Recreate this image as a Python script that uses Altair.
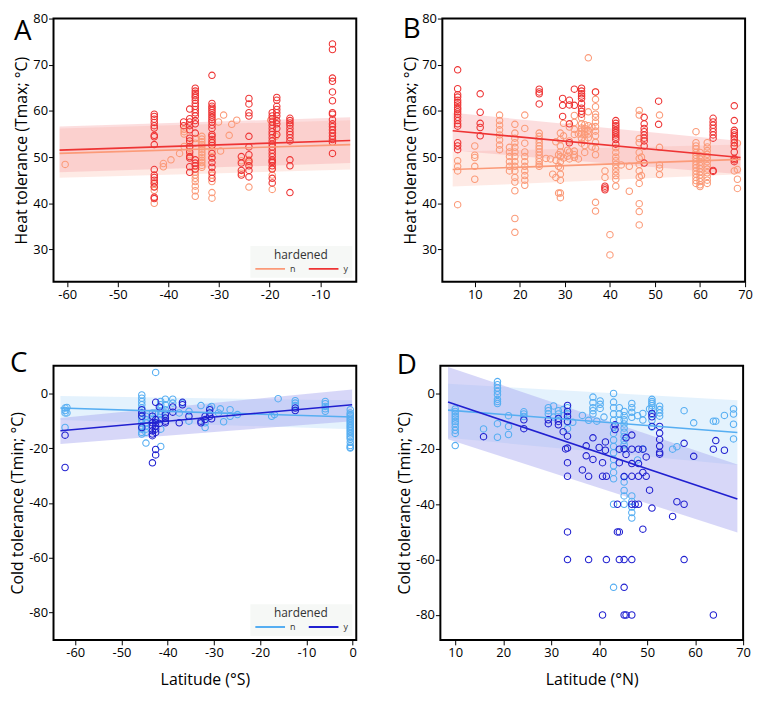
import altair as alt
import pandas as pd

FONT = "Open Sans"

# ---------------- Panel A : heat tolerance, southern hemisphere ----------------
A_n_cols = [
    (-60.4, [48.4]),
    (-42.8, [44.2, 43.6, 42.8, 40.0]),
    (-41.0, [48.6, 47.9]),
    (-39.5, [49.4]),
    (-37.8, [50.8]),
    (-36.9, [56.0, 55.5, 55.0, 52.3]),
    (-35.8, [53.0, 52.0, 50.5]),
    (-34.7, [54.0, 53.0, 46.7, 46.1, 45.4, 44.7, 43.7, 42.7, 41.5]),
    (-33.4, [54.5, 53.9, 53.3, 52.7, 52.2, 51.6, 51.0, 50.5, 49.9, 49.3, 48.8, 48.2, 47.8]),
    (-31.4, [53.0, 51.5, 50.0, 46.1, 44.7, 42.3, 41.1]),
    (-30.1, [57.6]), (-29.7, [51.3]), (-29.1, [59.1]), (-28.0, [54.7]),
    (-27.5, [57.1]), (-26.5, [58.0]),
    (-25.6, [49.2, 46.5]),
    (-24.1, [49.4, 48.7, 43.5]),
    (-19.8, [58.0]),
    (-19.5, [47.5, 46.1, 43.0]),
    (-18.8, [54.5]),
]
A_y_cols = [
    (-42.8, [59.3, 58.8, 58.2, 57.5, 56.8, 56.3, 54.7, 54.4, 52.7, 47.3, 46.1, 45.6, 45.0, 44.4, 43.5, 41.3, 41.0]),
    (-37.0, [57.6, 56.8]),
    (-35.8, [60.4, 58.3, 57.6, 56.8, 55.9, 54.1, 53.5, 52.3, 51.1, 50.1, 49.8, 47.9, 46.7]),
    (-34.7, [64.9, 64.3, 63.8, 63.3, 62.9, 62.3, 61.6, 61.0, 60.3, 59.6, 58.9, 57.9, 57.2, 55.2, 49.4, 48.7, 48.1, 47.4]),
    (-31.4, [67.7, 61.6, 61.0, 60.6, 60.1, 59.6, 59.1, 58.6, 58.1, 57.6, 56.9, 56.2, 54.9, 54.5, 53.8, 53.2, 52.5,
             50.8, 49.8, 48.8, 47.8, 46.7, 45.4]),
    (-25.6, [50.1, 48.7, 47.1, 46.1]),
    (-24.1, [62.7, 61.5, 59.6, 58.9, 54.5, 52.2, 50.5, 49.1, 48.1, 47.1, 45.7]),
    (-19.5, [59.6, 58.9, 58.3, 57.6, 56.9, 56.2, 55.5, 54.9, 54.2, 53.5, 52.8, 52.2, 51.5, 50.8, 50.1, 49.4,
             49.1, 48.8, 48.1, 47.4, 45.4, 44.4]),
    (-18.6, [62.9, 62.3, 61.0, 60.3, 59.6, 58.9, 57.9, 57.2, 56.2, 54.9]),
    (-16.0, [58.4, 57.9, 57.4, 56.9, 56.2, 55.5, 54.9, 54.2, 53.5, 49.4, 48.1, 42.3]),
    (-7.6, [74.5, 73.3, 67.1, 66.4, 64.1, 62.2, 59.6, 59.3, 58.1, 57.2, 56.6, 55.9, 55.2, 54.5, 53.8, 53.2, 50.8]),
]
A_fit_lat = [-61.5, -4.1]
A_n_fit, A_n_lo, A_n_hi = [50.8, 52.7], [45.5, 47.3], [56.2, 58.0]
A_y_fit, A_y_lo, A_y_hi = [51.5, 53.6], [46.7, 48.7], [56.6, 58.6]

# ---------------- Panel B : heat tolerance, northern hemisphere ----------------
B_n_cols = [
    (6.2, [49.2, 48.0, 47.0, 39.7]),
    (10.0, [52.4, 50.4, 49.9, 48.0, 45.2]),
    (15.5, [59.1, 57.9, 56.9, 55.9, 54.8, 53.7, 52.6, 51.6]),
    (17.7, [52.1, 51.1, 50.1, 49.0, 48.0, 47.0]),
    (18.9, [57.1, 55.2, 54.1, 53.1, 52.1, 51.1, 50.1, 49.0, 48.0, 47.0, 45.6, 44.6, 42.7, 36.7, 33.7]),
    (21.1, [59.1, 56.2, 53.0, 51.1, 50.1, 49.0, 48.0, 47.0, 46.0, 45.0, 43.9]),
    (24.3, [55.2, 54.5, 53.8, 53.1, 52.4, 51.8, 51.1, 50.4, 49.7, 49.0, 48.4, 48.0]),
    (25.8, [49.7]), (26.8, [49.6]), (27.3, [46.3]),
    (28.0, [53.3, 45.6, 49.3]),
    (28.6, [50.5, 48.0, 42.2]),
    (29.0, [55.2, 53.8, 52.4, 51.1, 50.1, 49.0, 47.7, 46.3, 45.0, 42.2, 41.2]),
    (29.7, [57.3, 54.6, 49.8]),
    (30.6, [50.2, 51.5]),
    (31.0, [56.5, 53.5, 51.1, 49.6]),
    (32.1, [59.0, 57.5, 56.0, 54.9, 51.3, 50.5, 49.9]),
    (33.0, [55.0, 49.6]),
    (33.7, [58.5, 57.2, 56.3, 55.6, 55.0, 54.0, 53.0]),
    (34.4, [57.0, 56.2, 55.5, 54.8, 53.6, 52.5, 51.0]),
    (35.2, [71.5, 59.8, 56.8, 55.8, 55.0, 54.2]),
    (36.0, [56.5, 52.2]),
    (36.8, [64.1, 62.5, 60.9, 59.3, 58.6, 57.6, 56.6, 55.6, 54.6, 53.2, 51.9, 50.5, 40.2, 38.3]),
    (38.9, [47.0, 45.6]),
    (40.0, [33.2, 28.8]),
    (41.3, [52.0, 51.0, 50.0, 49.2, 48.4, 47.6, 46.8, 46.0, 45.2, 43.7]),
    (42.5, [48.3]),
    (44.3, [48.0, 42.6]),
    (46.5, [60.1, 59.1, 54.0, 53.1, 51.0, 49.7, 48.4, 47.0, 45.7, 44.3, 39.9, 38.2, 35.3]),
    (47.0, [50.0, 46.0]),
    (51.0, [59.1, 52.1, 48.3, 47.6, 46.2]),
    (59.1, [55.5, 53.1, 52.4, 51.8, 51.0, 50.4, 49.7, 49.0, 48.3, 47.7, 47.0, 46.3, 45.6, 44.9, 44.3]),
    (60.0, [51.0, 50.3, 49.6, 48.9, 48.2, 47.5, 46.8, 46.1, 45.4, 44.7, 44.0, 43.6]),
    (61.6, [53.1, 52.2, 51.4, 50.6, 49.8, 49.0, 48.2, 47.4, 46.6, 45.8, 45.0, 44.3]),
    (67.6, [52.4, 47.0]),
    (68.3, [53.0, 47.3, 45.2, 43.2]),
]
B_y_cols = [
    (6.2, [68.9, 64.8, 63.5, 63.0, 62.3, 61.8, 61.3, 60.7, 60.3, 59.8, 59.3, 58.6, 57.9, 57.2, 56.7, 53.1, 52.4, 51.6]),
    (11.2, [63.7, 59.7, 57.3, 56.4, 54.6]),
    (24.3, [64.7, 64.1, 63.7, 61.5]),
    (29.5, [62.7, 61.2, 58.8]),
    (31.0, [62.3, 61.3, 57.2, 53.1]),
    (32.1, [64.7, 61.2]),
    (33.7, [64.9, 64.3, 63.7, 63.2, 62.7, 61.6, 60.6, 59.9, 59.3]),
    (36.8, [64.1]),
    (38.9, [43.7, 43.3, 42.9]),
    (41.3, [57.9, 57.3, 56.8, 56.3, 55.8, 55.3, 54.8, 54.3, 53.8, 52.8]),
    (47.6, [58.6, 57.2, 56.2, 55.5, 54.8, 54.1, 53.5, 52.4, 48.7]),
    (50.8, [62.1, 57.1]),
    (62.9, [58.4, 57.6, 56.9, 56.2, 55.5, 54.8, 54.1, 47.1, 46.9]),
    (67.6, [61.1, 57.9, 55.8, 55.3, 54.8, 54.4, 53.8, 53.1, 52.4, 51.1, 49.7, 49.4, 49.0]),
]
B_fit_lat = [5.1, 69.0]
B_n_fit, B_n_lo, B_n_hi = [47.3, 49.5], [43.6, 46.3], [51.2, 52.7]
B_y_fit, B_y_lo, B_y_hi = [55.7, 49.9], [51.4, 46.3], [59.6, 53.5]

# ---------------- Panel C : cold tolerance, southern hemisphere ----------------
C_n_cols = [
    (-62.2, [-5.4, -6.3, -7.2, -12.5]),
    (-61.8, [-5.2, -7.2]),
    (-45.6, [-0.6, -1.8, -3.0, -4.2, -5.4, -7.2, -8.4, -9.6, -10.8, -12.0, -13.1, -14.3, -14.9]),
    (-44.7, [-8.4, -9.6, -10.8, -12.0, -13.1, -14.3, -18.2]),
    (-43.3, [-7.2, -9.6]),
    (-42.6, [7.6, -7.2]),
    (-41.5, [-3.0, -4.2, -5.4, -6.6, -7.8, -9.6, -13.1, -19.4]),
    (-40.5, [-2.2, -4.2, -6.0, -7.2]),
    (-38.9, [-2.2, -3.6]),
    (-37.5, [-7.2]), (-36.8, [-3.6]),
    (-35.4, [-6.6, -10.2]),
    (-32.8, [-4.5]),
    (-31.9, [-12.5, -10.8]),
    (-30.9, [-5.4]), (-30.5, [-4.8]), (-29.0, [-7.2]), (-28.6, [-5.7]), (-27.9, [-10.4]),
    (-26.5, [-6.0, -8.4]), (-24.9, [-7.8]),
    (-17.5, [-8.4]), (-16.9, [-7.8]), (-16.1, [-2.0]),
    (-12.4, [-2.7, -3.6, -4.5]),
    (-5.9, [-3.0, -3.8, -4.8, -5.7, -6.6]),
    (-0.5, [-6.0, -7.2, -7.8, -8.4, -9.0, -9.6, -10.2, -10.8, -11.4, -12.0, -12.5, -13.1, -13.7, -14.3, -14.9,
            -15.5, -16.1, -16.7, -17.9, -19.1, -19.7, -20.0]),
]
C_y_cols = [
    (-62.2, [-15.3, -27.1]),
    (-45.6, [-6.0, -7.2, -8.4, -12.5]),
    (-43.3, [-8.4, -10.8, -12.0, -13.7, -14.9, -15.5, -25.4]),
    (-42.6, [-3.3, -9.6, -10.8, -12.0, -13.1, -14.3, -20.5, -22.5]),
    (-41.8, [-5.0, -11.0]),
    (-40.5, [-7.8, -9.0, -10.2, -10.8]),
    (-38.9, [-5.0, -6.9]),
    (-37.5, [-10.8]),
    (-36.8, [-3.3, -4.2]),
    (-35.4, [-8.4]),
    (-32.8, [-10.2, -10.8]),
    (-31.9, [-9.6, -8.4]),
    (-30.9, [-6.0, -7.2, -8.4]),
    (-30.5, [-9.3]),
    (-12.4, [-5.4, -6.3]),
]
C_fit_lat = [-63.2, -0.1]
C_n_fit, C_n_lo, C_n_hi = [-5.4, -8.7], [-9.8, -13.1], [-1.0, -2.6]
C_y_fit, C_y_lo, C_y_hi = [-13.7, -4.2], [-18.5, -10.2], [-9.0, 1.4]

# ---------------- Panel D : cold tolerance, northern hemisphere ----------------
D_n_cols = [
    (10.0, [-5.6, -6.5, -7.4, -8.3, -9.2, -10.1, -10.9, -12.1, -13.3, -14.4, -18.8]),
    (15.9, [-12.8]),
    (18.8, [4.3, 3.2, 2.0, 0.8, -0.4, -2.1, -2.9, -3.6, -10.9, -15.8]),
    (21.1, [-8.0, -11.9, -14.8]),
    (24.3, [-6.6, -7.4, -8.3]),
    (29.4, [-5.1, -6.2, -7.4]),
    (30.5, [-4.5, -8.5]),
    (31.5, [-6.2, -7.4]),
    (32.5, [-5.8, -8.0]),
    (33.4, [-5.1, -7.4, -10.3, -12.7]),
    (34.5, [-10.4]), (36.5, [-7.9]), (37.8, [-9.7]),
    (38.7, [-1.3, -3.3, -5.1, -6.2, -7.4]),
    (39.5, [-10.0]),
    (40.2, [-2.7, -3.9, -5.4]),
    (41.0, [-8.5]),
    (43.0, [0.0, -3.1, -5.1, -7.4, -9.7, -12.1, -14.4, -16.8, -19.1, -21.4, -23.8, -26.1, -28.5, -30.8, -40.0, -70.0]),
    (44.2, [-5.1, -7.4, -9.7]),
    (45.2, [-6.5, -8.0, -9.5, -11.0, -12.5, -14.0, -15.5, -17.0, -18.5, -20.0, -30.0, -32.0, -35.0, -37.0, -40.0]),
    (46.8, [-3.6, -5.1, -6.8, -8.6, -37.0, -39.0, -41.0, -43.0, -45.0]),
    (48.0, [-8.0, -24.0]),
    (49.1, [-7.2, -9.6, -20.0]),
    (50.5, [-5.6]),
    (51.0, [-2.1, -2.9, -3.6, -4.4, -5.6, -7.4, -9.7, -12.1]),
    (52.6, [-4.6, -5.8, -7.0, -8.2]),
    (55.3, [-20.1]), (56.2, [-19.2]), (57.7, [-6.2]), (59.7, [-10.6]),
    (63.8, [-10.0]), (64.3, [-10.0]), (66.1, [-7.9]),
    (68.0, [-5.6, -7.4, -11.1, -16.4]),
]
D_y_cols = [
    (15.9, [-15.6]),
    (24.3, [-9.5, -12.7]),
    (29.4, [-9.5, -10.9]),
    (31.5, [-9.0, -10.1, -11.3]),
    (32.5, [-13.8]),
    (33.0, [-20.0]),
    (33.4, [-4.3, -6.5, -8.3, -10.1, -15.4, -19.7, -25.0, -29.9, -50.0, -60.0]),
    (36.5, [-27.6]),
    (37.3, [-18.9, -22.5]),
    (37.8, [-29.9, -60.0]),
    (38.7, [-16.0, -23.8]),
    (40.0, [-19.5]),
    (40.7, [-25.0, -29.9, -80.0]),
    (41.3, [-17.5, -20.5]),
    (41.5, [-29.9, -60.0]),
    (43.3, [-11.3, -13.0]),
    (43.8, [-40.0, -50.0]),
    (44.2, [-20.1, -25.0, -50.0, -60.0]),
    (45.2, [-20.0, -30.0, -70.0, -60.0, -80.0]),
    (45.6, [-80.0, -16.0, -22.0]),
    (46.8, [-15.0, -20.1, -25.3, -29.9, -40.0, -60.0, -80.0]),
    (47.5, [-40.0]),
    (48.2, [-20.1, -25.3, -29.9, -40.0]),
    (49.1, [-20.1, -28.5, -49.0]),
    (49.8, [-22.9, -29.9]),
    (50.5, [-34.9]),
    (51.0, [-7.2, -8.4, -11.9, -41.4]),
    (52.6, [-11.9, -14.3, -16.6, -19.0, -21.3, -21.9]),
    (55.3, [-44.4]), (56.2, [-39.1]),
    (57.7, [-18.0, -40.0, -60.0]),
    (59.7, [-22.7]),
    (63.8, [-20.1, -80.0]),
    (64.3, [-17.0]),
    (66.1, [-20.5]),
]
D_fit_lat = [8.5, 68.8]
D_n_fit, D_n_lo, D_n_hi = [-6.0, -14.1], [-16.0, -25.8], [3.5, -2.4]
D_y_fit, D_y_lo, D_y_hi = [-3.1, -38.1], [-16.5, -50.2], [9.6, -25.6]

HEAT_COLORS = ["#fb9a78", "#ee3434"]
HEAT_BANDS = ["#fdc5b8", "#f8a3a6"]
COLD_COLORS = ["#56aef2", "#2020d0"]
COLD_BANDS = ["#c4e3fa", "#a6a6f0"]


def points_df(n_cols, y_cols):
    rows = []
    for grp, cols in (("n", n_cols), ("y", y_cols)):
        for lat, vals in cols:
            for v in vals:
                rows.append({"lat": lat, "val": v, "hardened": grp})
    return pd.DataFrame(rows)


def fit_df(lat, n_fit, n_lo, n_hi, y_fit, y_lo, y_hi):
    rows = []
    for grp, f, lo, hi in (("n", n_fit, n_lo, n_hi), ("y", y_fit, y_lo, y_hi)):
        for i, x in enumerate(lat):
            rows.append({"lat": x, "fit": f[i], "lo": lo[i], "hi": hi[i], "hardened": grp,
                         "band": "band " + grp})
    return pd.DataFrame(rows)


def panel(pts, fits, xdom, ydom, xticks, yticks, ytitle, xtitle, letter, lxy,
          colors, bands, band_op, legend, height):
    xs = alt.Scale(domain=xdom, nice=False, zero=False)
    ys = alt.Scale(domain=ydom, nice=False, zero=False)
    if xtitle:
        xax = alt.Axis(values=xticks, labelExpr="'' + datum.value", title=xtitle,
                       titleFontSize=16, titlePadding=12, labelFlush=False, labelPadding=2)
    else:
        xax = alt.Axis(values=xticks, labelExpr="'' + datum.value", title=None,
                       labelFlush=False, labelPadding=2)
    yax = alt.Axis(values=yticks, labelExpr="'' + datum.value", title=ytitle,
                   titleFontSize=16, titlePadding=3, labelFlush=False, labelPadding=1)
    cscale = alt.Scale(domain=["n", "y"], range=colors)
    if legend:
        leg = alt.Legend(title="hardened", orient="bottom-right", direction="horizontal",
                         symbolType="stroke", symbolSize=900, symbolStrokeWidth=2,
                         clipHeight=10, titlePadding=2,
                         titleAnchor="middle", titleFontSize=12, titleFontWeight="normal",
                         titleColor="#333333", labelFontSize=9, labelColor="#333333",
                         fillColor="#f6f8f6", padding=4, offset=4, columnPadding=12,
                         titleFont=FONT, labelFont=FONT)
        color = alt.Color("hardened:N", scale=cscale, legend=leg)
    else:
        color = alt.Color("hardened:N", scale=cscale, legend=None)

    band = alt.Chart(fits).mark_area(opacity=band_op).encode(
        x=alt.X("lat:Q", scale=xs, axis=xax),
        y=alt.Y("lo:Q", scale=ys, axis=yax),
        y2="hi:Q",
        fill=alt.Fill("band:N", scale=alt.Scale(domain=["band n", "band y"], range=bands), legend=None),
    )
    pts_layer = alt.Chart(pts).mark_point(shape="circle", filled=False, size=42, strokeWidth=1.1,
                                          opacity=1).encode(
        x=alt.X("lat:Q", scale=xs, axis=xax),
        y=alt.Y("val:Q", scale=ys, axis=yax),
        color=color,
    )
    line = alt.Chart(fits).mark_line(strokeWidth=1.6).encode(
        x=alt.X("lat:Q", scale=xs, axis=xax),
        y=alt.Y("fit:Q", scale=ys, axis=yax),
        color=color,
    )
    lab = alt.Chart(pd.DataFrame({"t": [letter]})).mark_text(
        align="left", baseline="alphabetic", fontSize=28, font=FONT, color="black"
    ).encode(text="t:N", x=alt.value(lxy[0]), y=alt.value(lxy[1]))
    return alt.layer(band, pts_layer, line, lab).properties(width=306, height=height)


A = panel(points_df(A_n_cols, A_y_cols),
          fit_df(A_fit_lat, A_n_fit, A_n_lo, A_n_hi, A_y_fit, A_y_lo, A_y_hi),
          [-62.7, -2.9], [23, 80], [-60, -50, -40, -30, -20, -10], [30, 40, 50, 60, 70, 80],
          "Heat tolerance (Tmax; °C)", None, "A", (-40, 22), HEAT_COLORS, HEAT_BANDS, 0.36, True, 266)
B = panel(points_df(B_n_cols, B_y_cols),
          fit_df(B_fit_lat, B_n_fit, B_n_lo, B_n_hi, B_y_fit, B_y_lo, B_y_hi),
          [2.8, 70], [23, 80], [10, 20, 30, 40, 50, 60, 70], [30, 40, 50, 60, 70, 80],
          "Heat tolerance (Tmax; °C)", None, "B", (-40, 20), HEAT_COLORS, HEAT_BANDS, 0.36, False, 266)
C = panel(points_df(C_n_cols, C_y_cols),
          fit_df(C_fit_lat, C_n_fit, C_n_lo, C_n_hi, C_y_fit, C_y_lo, C_y_hi),
          [-64.7, 0.8], [-90, 10], [-60, -50, -40, -30, -20, -10, 0], [-80, -60, -40, -20, 0],
          "Cold tolerance (Tmin; °C)", "Latitude (°S)", "C", (-44, 6), COLD_COLORS, COLD_BANDS, 0.45, True, 277)
D = panel(points_df(D_n_cols, D_y_cols),
          fit_df(D_fit_lat, D_n_fit, D_n_lo, D_n_hi, D_y_fit, D_y_lo, D_y_hi),
          [6.9, 70], [-89, 10], [10, 20, 30, 40, 50, 60, 70], [-80, -60, -40, -20, 0],
          "Cold tolerance (Tmin; °C)", "Latitude (°N)", "D", (-44, 8), COLD_COLORS, COLD_BANDS, 0.45, False, 277)

top = alt.hconcat(A, B, spacing=45).resolve_scale(color="independent", fill="independent")
bottom = alt.hconcat(C, D, spacing=38).resolve_scale(color="independent", fill="independent")

chart = alt.vconcat(top, bottom, spacing=47, background="white").resolve_scale(
    color="independent", fill="independent"
).properties(
    padding={"left": 0, "top": 0, "right": 0, "bottom": 0}
).configure_view(
    stroke="black", strokeWidth=2
).configure_axis(
    labelFont=FONT, titleFont=FONT, labelFontSize=13, labelColor="black",
    titleColor="black", titleFontWeight="normal", tickColor="black", tickSize=5,
    domain=False, grid=False
)

chart.save("out.html", embed_options={"renderer": "svg", "actions": False})
